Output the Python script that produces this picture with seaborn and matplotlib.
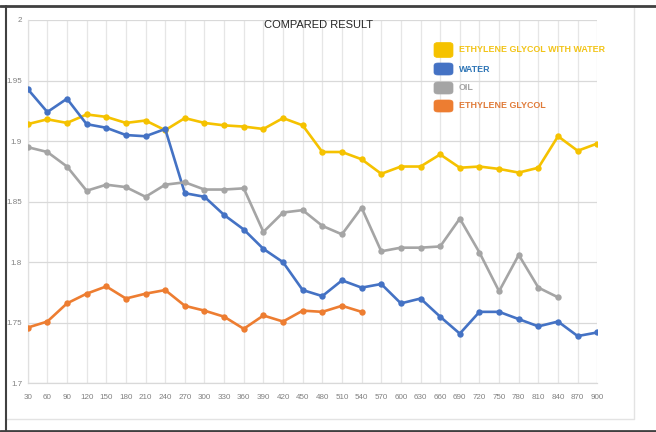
import numpy as np
import pandas as pd
import matplotlib
matplotlib.use("Agg")
import matplotlib.pyplot as plt
from matplotlib.patches import FancyBboxPatch
from matplotlib.lines import Line2D
import seaborn as sns

# ---- data ----
x_vals = [30, 60, 90, 120, 150, 180, 210, 240, 270, 300, 330, 360, 390, 420, 450,
          480, 510, 540, 570, 600, 630, 660, 690, 720, 750, 780, 810, 840, 870, 900]
eg_water = [1.914, 1.918, 1.915, 1.922, 1.920, 1.915, 1.917, 1.909, 1.919, 1.915,
            1.913, 1.912, 1.910, 1.919, 1.913, 1.891, 1.891, 1.885, 1.873, 1.879,
            1.879, 1.889, 1.878, 1.879, 1.877, 1.874, 1.878, 1.904, 1.892, 1.898]
water = [1.943, 1.924, 1.935, 1.914, 1.911, 1.905, 1.904, 1.910, 1.857, 1.854,
         1.839, 1.827, 1.811, 1.800, 1.777, 1.772, 1.785, 1.779, 1.782, 1.766,
         1.770, 1.755, 1.741, 1.759, 1.759, 1.753, 1.747, 1.751, 1.739, 1.742]
oil = [1.895, 1.891, 1.879, 1.859, 1.864, 1.862, 1.854, 1.864, 1.866, 1.860,
       1.860, 1.861, 1.825, 1.841, 1.843, 1.830, 1.823, 1.845, 1.809, 1.812,
       1.812, 1.813, 1.836, 1.808, 1.776, 1.806, 1.779, 1.771]
eg = [1.746, 1.751, 1.766, 1.774, 1.780, 1.770, 1.774, 1.777, 1.764, 1.760,
      1.755, 1.745, 1.756, 1.751, 1.760, 1.759, 1.764, 1.759]
series_names = ["ETHYLENE GLYCOL WITH WATER", "WATER", "OIL", "ETHYLENE GLYCOL"]
y_ticks = [1.7, 1.75, 1.8, 1.85, 1.9, 1.95, 2.0]
y_tick_labels = ["1.7", "1.75", "1.8", "1.85", "1.9", "1.95", "2"]
title = "COMPARED RESULT"

colors = ["#F5C200", "#4472C4", "#A5A5A5", "#ED7D31"]
text_colors = ["#F2C418", "#2E75B6", "#A5A5A5", "#E07B39"]

sns.set_theme(style="white")
plt.rcParams["font.family"] = ["Liberation Sans", "DejaVu Sans"]

W, H = 656, 432
fig = plt.figure(figsize=(W / 100, H / 100), dpi=100)
fig.patch.set_facecolor("white")

ax = fig.add_axes([27.7 / W, 1 - 383.3 / H, (597.3 - 27.7) / W, (383.3 - 20) / H])

all_series = [eg_water, water, oil, eg]
for name, vals, col in zip(series_names, all_series, colors):
    df = pd.DataFrame({"x": x_vals[:len(vals)], "y": vals})
    sns.lineplot(data=df, x="x", y="y", ax=ax, color=col, linewidth=1.9,
                 marker="o", markersize=4.6, markeredgewidth=0,
                 markeredgecolor=col, zorder=3, legend=False)

ax.set_xlim(x_vals[0], x_vals[-1])
ax.set_ylim(1.7, 2.0)
ax.set_xticks(x_vals)
ax.set_xticklabels([str(v) for v in x_vals])
ax.set_yticks(y_ticks)
ax.set_yticklabels(y_tick_labels)
ax.set_xlabel("")
ax.set_ylabel("")
ax.tick_params(axis="both", length=0, labelsize=5.8, labelcolor="#808080")
ax.tick_params(axis="x", pad=8)
ax.tick_params(axis="y", pad=4)

ax.grid(True, axis="y", color="#D9D9D9", linewidth=0.9)
ax.grid(True, axis="x", color="#E6E6E6", linewidth=0.9)
ax.set_axisbelow(True)
for s in ["top", "right"]:
    ax.spines[s].set_visible(False)
ax.spines["left"].set_color("#E0E0E0")
ax.spines["bottom"].set_color("#D9D9D9")
ax.spines["left"].set_linewidth(0.9)
ax.spines["bottom"].set_linewidth(0.9)

fig.text(319 / W, 1 - 25 / H, title, ha="center", va="center",
         fontsize=8.0, color="#262626")

# legend drawn manually with rounded swatches
leg_y = [50, 69, 88, 106]
sw_h = [15, 12, 12, 12]
for i, (name, col, tcol) in enumerate(zip(series_names, colors, text_colors)):
    yc = leg_y[i]
    h = sw_h[i]
    fig.add_artist(FancyBboxPatch((434 / W, 1 - (yc + h / 2) / H), 19 / W, h / H,
                                  boxstyle="round,pad=0,rounding_size=0.006",
                                  transform=fig.transFigure, facecolor=col,
                                  edgecolor=col, linewidth=0.5))
    fig.text(459 / W, 1 - yc / H, name, ha="left", va="center",
             fontsize=6.4, fontweight="bold", color=tcol)

# frame lines
fig.add_artist(Line2D([6 / W, 634 / W, 634 / W], [1 - 419 / H, 1 - 419 / H, 1 - 6 / H],
                      transform=fig.transFigure, color="#E3E3E3", linewidth=1))
fig.add_artist(Line2D([0, 1], [1 - 5.5 / H, 1 - 5.5 / H], transform=fig.transFigure,
                      color="#404040", linewidth=2))
fig.add_artist(Line2D([0, 1], [1 - 430.5 / H, 1 - 430.5 / H], transform=fig.transFigure,
                      color="#404040", linewidth=2))
fig.add_artist(Line2D([6 / W, 6 / W], [1 - 5.5 / H, 1 - 430.5 / H], transform=fig.transFigure,
                      color="#404040", linewidth=1.5))

fig.savefig("out.png", dpi=100)
